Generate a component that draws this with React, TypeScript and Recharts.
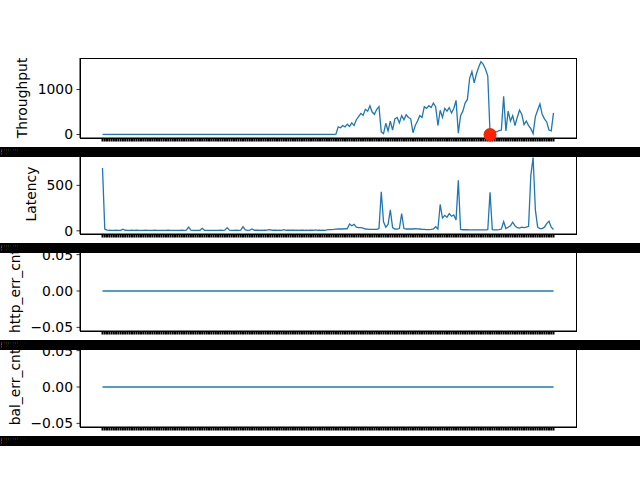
import React from 'react';
import { LineChart, Line, XAxis, YAxis, ReferenceDot } from 'recharts';

// one sample every 5 minutes; 200 samples in the window
const sampleCount = 200;
const startTime = Date.UTC(2023, 2, 14, 0, 0, 0);
const stepMinutes = 5;

const pad2 = (n: number) => String(n).padStart(2, '0');
const fmtTime = (d: Date) =>
  `${d.getUTCFullYear()}-${pad2(d.getUTCMonth() + 1)}-${pad2(d.getUTCDate())} ` +
  `${pad2(d.getUTCHours())}:${pad2(d.getUTCMinutes())}:${pad2(d.getUTCSeconds())}.000+00:00`;

const timestamps = Array.from({ length: sampleCount }, (_, i) =>
  fmtTime(new Date(startTime + i * stepMinutes * 60000))
);

const throughput = [
  4, 4, 4, 4, 4, 4, 4, 4, 4, 4, 4, 4, 4, 4, 4, 4, 4, 4, 4, 4,
  4, 4, 4, 4, 4, 4, 4, 4, 4, 4, 4, 4, 4, 4, 4, 4, 4, 4, 4, 4,
  4, 4, 4, 4, 4, 4, 4, 4, 4, 4, 4, 4, 4, 4, 4, 4, 4, 4, 4, 4,
  4, 4, 4, 5, 5, 5, 5, 5, 5, 5, 5, 5, 5, 5, 5, 5, 5, 5, 5, 5,
  5, 5, 5, 5, 5, 5, 5, 5, 5, 5, 5, 5, 5, 5, 5, 5, 5, 5, 5, 5,
  5, 5, 5, 8,
  170, 150, 200, 170, 230, 180, 260, 200, 330, 400, 470, 430, 560, 520, 640, 500,
  450, 560, 620, 60, 20, 250, 80, 300, 100, 350, 380, 260, 420, 330, 440, 380,
  350, 40, 200, 300, 420, 380, 620, 580, 640, 600, 700, 620, 200, 540, 380, 580,
  520, 600, 480, 580, 760, 30, 420, 520, 700, 780, 1250, 1400, 1150, 1350, 1500, 1620,
  1560, 1450, 1300, 30, 50, 70, 60, 90, 100, 850, 80, 520, 300, 420, 200, 380,
  540, 450, 220, 300, 200, 130, 20, 400, 540, 680, 450, 350, 280, 100, 80, 480,
];

const latency = [
  690, 20, 8, 6, 5, 5, 6, 5, 5, 18, 6, 5, 5, 7, 5, 6, 5, 5, 5, 6,
  5, 5, 5, 6, 5, 5, 5, 5, 5, 6, 5, 5, 5, 5, 5, 6, 5, 8, 40, 8,
  5, 5, 5, 6, 28, 6, 5, 5, 5, 5, 5, 5, 6, 5, 8, 35, 8, 5, 5, 6,
  5, 8, 45, 10, 6, 8, 20, 6, 6, 6, 8, 6, 6, 10, 14, 6, 6, 6, 8, 6,
  12, 6, 6, 6, 6, 6, 8, 6, 6, 6, 8, 6, 6, 6, 10, 6, 6, 8, 6, 10,
  12, 14, 15, 18,
  20, 22, 20, 25, 22, 75, 55, 70, 40, 35, 35, 30, 20, 18, 15, 15,
  15, 15, 25, 430, 100, 40, 70, 230, 35, 20, 18, 25, 190, 25, 20, 20,
  22, 20, 25, 22, 20, 15, 15, 14, 14, 15, 20, 45, 20, 290, 140, 170,
  150, 190, 160, 175, 120, 555, 15, 12, 12, 12, 10, 10, 10, 10, 10, 10,
  10, 10, 12, 425, 12, 10, 10, 12, 20, 100, 25, 40, 55, 95, 55, 35,
  30, 40, 35, 40, 50, 610, 805, 230, 40, 25, 25, 40, 80, 105, 40, 15,
];

const httpErrCnt = [
  0, 0, 0, 0, 0, 0, 0, 0, 0, 0, 0, 0, 0, 0, 0, 0, 0, 0, 0, 0,
  0, 0, 0, 0, 0, 0, 0, 0, 0, 0, 0, 0, 0, 0, 0, 0, 0, 0, 0, 0,
  0, 0, 0, 0, 0, 0, 0, 0, 0, 0, 0, 0, 0, 0, 0, 0, 0, 0, 0, 0,
  0, 0, 0, 0, 0, 0, 0, 0, 0, 0, 0, 0, 0, 0, 0, 0, 0, 0, 0, 0,
  0, 0, 0, 0, 0, 0, 0, 0, 0, 0, 0, 0, 0, 0, 0, 0, 0, 0, 0, 0,
  0, 0, 0, 0, 0, 0, 0, 0, 0, 0, 0, 0, 0, 0, 0, 0, 0, 0, 0, 0,
  0, 0, 0, 0, 0, 0, 0, 0, 0, 0, 0, 0, 0, 0, 0, 0, 0, 0, 0, 0,
  0, 0, 0, 0, 0, 0, 0, 0, 0, 0, 0, 0, 0, 0, 0, 0, 0, 0, 0, 0,
  0, 0, 0, 0, 0, 0, 0, 0, 0, 0, 0, 0, 0, 0, 0, 0, 0, 0, 0, 0,
  0, 0, 0, 0, 0, 0, 0, 0, 0, 0, 0, 0, 0, 0, 0, 0, 0, 0, 0, 0,
];

const balErrCnt = [
  0, 0, 0, 0, 0, 0, 0, 0, 0, 0, 0, 0, 0, 0, 0, 0, 0, 0, 0, 0,
  0, 0, 0, 0, 0, 0, 0, 0, 0, 0, 0, 0, 0, 0, 0, 0, 0, 0, 0, 0,
  0, 0, 0, 0, 0, 0, 0, 0, 0, 0, 0, 0, 0, 0, 0, 0, 0, 0, 0, 0,
  0, 0, 0, 0, 0, 0, 0, 0, 0, 0, 0, 0, 0, 0, 0, 0, 0, 0, 0, 0,
  0, 0, 0, 0, 0, 0, 0, 0, 0, 0, 0, 0, 0, 0, 0, 0, 0, 0, 0, 0,
  0, 0, 0, 0, 0, 0, 0, 0, 0, 0, 0, 0, 0, 0, 0, 0, 0, 0, 0, 0,
  0, 0, 0, 0, 0, 0, 0, 0, 0, 0, 0, 0, 0, 0, 0, 0, 0, 0, 0, 0,
  0, 0, 0, 0, 0, 0, 0, 0, 0, 0, 0, 0, 0, 0, 0, 0, 0, 0, 0, 0,
  0, 0, 0, 0, 0, 0, 0, 0, 0, 0, 0, 0, 0, 0, 0, 0, 0, 0, 0, 0,
  0, 0, 0, 0, 0, 0, 0, 0, 0, 0, 0, 0, 0, 0, 0, 0, 0, 0, 0, 0,
];

// flagged anomaly on the throughput panel
const anomalyIndex = [171];
const anomalyValue = [0];

const rows = timestamps.map((ts, i) => ({
  ts,
  throughput: throughput[i],
  latency: latency[i],
  http_err_cnt: httpErrCnt[i],
  bal_err_cnt: balErrCnt[i],
}));

// matplotlib style 5% margins
const autoDomain = (vals: number[]): [number, number] => {
  const lo = Math.min(...vals);
  const hi = Math.max(...vals);
  if (lo === hi) return [lo - 0.055, hi + 0.055];
  const m = (hi - lo) * 0.05;
  return [lo - m, hi + m];
};

const intFmt = (v: number) => String(v);
const decFmt = (v: number) => (v < 0 ? '\u2212' : '') + Math.abs(v).toFixed(2);

const panels = [
  { key: 'throughput', label: 'Throughput', values: throughput, ticks: [0, 1000], fmt: intFmt, labelX: 22, top: 53 },
  { key: 'latency', label: 'Latency', values: latency, ticks: [0, 500], fmt: intFmt, labelX: 31, top: 149 },
  { key: 'http_err_cnt', label: 'http_err_cnt', values: httpErrCnt, ticks: [-0.05, 0, 0.05], fmt: decFmt, labelX: 15, top: 246 },
  { key: 'bal_err_cnt', label: 'bal_err_cnt', values: balErrCnt, ticks: [-0.05, 0, 0.05], fmt: decFmt, labelX: 15, top: 342 },
];

const FONT = 'DejaVu Sans';
const TICK_FONT = 13.9;
const CHART_W = 640;
const CHART_H = 115;
const MARGIN = { top: 5, right: 64, bottom: 0, left: 0 };
const Y_W = 80;
const X_H = 30;

const XTick = (props: any) => {
  const { x, y, payload } = props;
  return (
    <text x={x} y={y} dy={12} textAnchor="middle" fontSize={TICK_FONT} fontFamily={FONT} fill="#000">
      {payload.value}
    </text>
  );
};

export default function App() {
  return (
    <div style={{ position: 'absolute', left: 0, top: 0, width: 640, height: 480, background: '#fff', fontFamily: FONT, overflow: 'hidden' }}>
      {panels
        .slice()
        .reverse()
        .map((p) => (
          <div key={p.key} style={{ position: 'absolute', left: 0, top: p.top, width: CHART_W, height: CHART_H }}>
            {/* axes frame (matplotlib spines) */}
            <div
              style={{
                position: 'absolute',
                left: Y_W - 0.5,
                top: MARGIN.top - 0.5,
                width: CHART_W - MARGIN.right - Y_W + 1,
                height: CHART_H - MARGIN.top - X_H + 1,
                border: '1px solid #000',
                boxSizing: 'border-box',
                pointerEvents: 'none',
              }}
            />
            <div style={{ position: 'absolute', left: 0, top: 0 }}>
              <LineChart width={CHART_W} height={CHART_H} data={rows} margin={MARGIN}>
                <XAxis
                  dataKey="ts"
                  interval={0}
                  height={X_H}
                  tickSize={3.5}
                  tickMargin={3.5}
                  tick={<XTick />}
                  tickLine={{ stroke: '#000', strokeWidth: 2 }}
                  axisLine={{ stroke: '#000', strokeWidth: 1 }}
                  padding={{ left: 22.5, right: 22.5 }}
                />
                <YAxis
                  type="number"
                  domain={autoDomain(p.values)}
                  ticks={p.ticks}
                  interval={0}
                  allowDataOverflow
                  tickFormatter={p.fmt}
                  width={Y_W}
                  tickSize={3.5}
                  tickMargin={3.5}
                  tick={{ fill: '#000', fontSize: TICK_FONT, fontFamily: FONT }}
                  tickLine={{ stroke: '#000', strokeWidth: 0.8 }}
                  axisLine={{ stroke: '#000', strokeWidth: 1 }}
                  label={{
                    value: p.label,
                    angle: -90,
                    position: 'insideLeft',
                    offset: p.labelX,
                    fill: '#000',
                    fontSize: TICK_FONT,
                    style: { textAnchor: 'middle', fontFamily: FONT },
                  }}
                />
                <Line
                  type="linear"
                  dataKey={p.key}
                  stroke="#1f77b4"
                  strokeWidth={1.3}
                  dot={false}
                  isAnimationActive={false}
                />
                {p.key === 'throughput' &&
                  anomalyIndex.map((idx, j) => (
                    <ReferenceDot
                      key={idx}
                      x={timestamps[idx]}
                      y={anomalyValue[j]}
                      r={6.5}
                      fill="#ff2200"
                      stroke="none"
                    />
                  ))}
              </LineChart>
            </div>
          </div>
        ))}
    </div>
  );
}
